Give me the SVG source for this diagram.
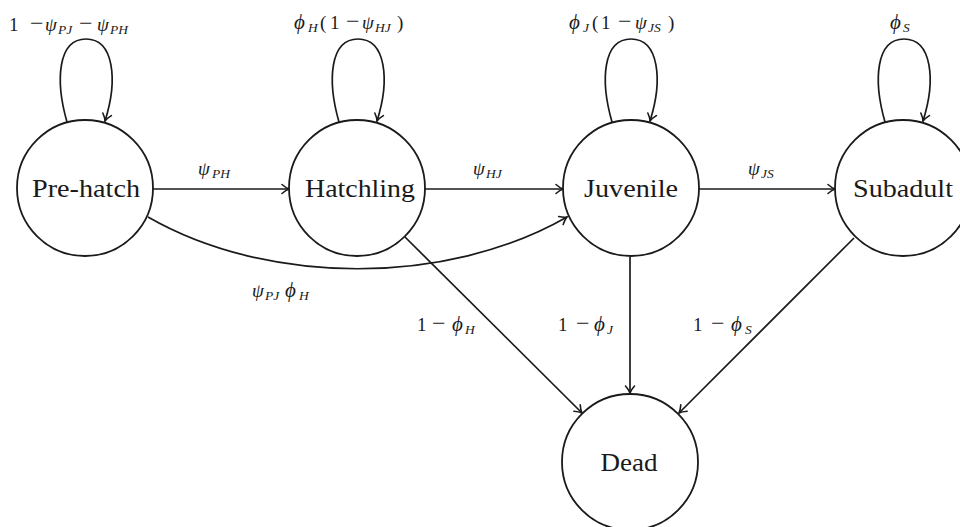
<svg xmlns="http://www.w3.org/2000/svg" width="960" height="527" viewBox="0 0 960 527">
<defs>
<style>
.node{fill:#fff;stroke:#1a1a1a;stroke-width:1.8}
.edge{fill:none;stroke:#1a1a1a;stroke-width:1.7}
.nl{font-family:"Liberation Serif","DejaVu Serif",serif;font-size:25px;fill:#1a1a1a;text-anchor:middle}
.m{font-family:"Liberation Serif","DejaVu Serif",serif;font-size:19px;fill:#1a1a1a}
.i{font-style:italic}
.p{font-style:italic;font-size:21px}
.s{font-style:italic;font-size:13.5px}
.mi{font-size:24px}
</style>
<marker id="arr" markerWidth="12" markerHeight="12" refX="0" refY="0" viewBox="-9 -6 11 12" orient="auto" markerUnits="userSpaceOnUse">
<path d="M-7,-4.5 Q-3,-1 0,0 Q-3,1 -7,4.5" fill="none" stroke="#1a1a1a" stroke-width="1.6" stroke-linecap="round"/>
</marker>
</defs>
<rect width="960" height="527" fill="#fff"/>
<g id="connectors">
<path class="edge" d="M67,122 C55,80 58,39 86,39 C114,39 118,80 105,121" marker-end="url(#arr)"/>
<path class="edge" d="M339,122 C327,80 330,39 358,39 C386,39 390,80 377,121" marker-end="url(#arr)"/>
<path class="edge" d="M612,122 C600,80 603,39 631,39 C659,39 663,80 650,121" marker-end="url(#arr)"/>
<path class="edge" d="M885,122 C873,80 876,39 904,39 C932,39 936,80 923,121" marker-end="url(#arr)"/>
<path class="edge" d="M153,189 H289" marker-end="url(#arr)"/>
<path class="edge" d="M425,189 H563" marker-end="url(#arr)"/>
<path class="edge" d="M699,189 H835" marker-end="url(#arr)"/>
<path class="edge" d="M148,217 C268,286 447,286 567,217" marker-end="url(#arr)"/>
<path class="edge" d="M405,237 L582,413" marker-end="url(#arr)"/>
<path class="edge" d="M630,257 V393" marker-end="url(#arr)"/>
<path class="edge" d="M854,238 L679,413" marker-end="url(#arr)"/>
</g>
<g id="edge-labels">
<text class="m" y="31"><tspan x="9">1</tspan><tspan class="mi" x="30">−</tspan><tspan class="i" x="45">ψ</tspan><tspan class="s" x="58" y="34">PJ</tspan><tspan class="mi" x="79" y="31">−</tspan><tspan class="i" x="97">ψ</tspan><tspan class="s" x="110" y="34">PH</tspan></text>
<text class="m" y="29"><tspan class="p" x="294">ϕ</tspan><tspan class="s" x="308" y="32">H</tspan><tspan x="320" y="29">(</tspan><tspan x="330">1</tspan><tspan class="mi" x="346">−</tspan><tspan class="i" x="362">ψ</tspan><tspan class="s" x="375" y="32">HJ</tspan><tspan x="397" y="29">)</tspan></text>
<text class="m" y="29"><tspan class="p" x="569">ϕ</tspan><tspan class="s" x="583" y="32">J</tspan><tspan x="592" y="29">(</tspan><tspan x="601">1</tspan><tspan class="mi" x="618">−</tspan><tspan class="i" x="635">ψ</tspan><tspan class="s" x="648" y="32">JS</tspan><tspan x="668" y="29">)</tspan></text>
<text class="m" y="29"><tspan class="p" x="890">ϕ</tspan><tspan class="s" x="903" y="32">S</tspan></text>
<text class="m" y="175"><tspan class="i" x="198">ψ</tspan><tspan class="s" x="212" y="178">PH</tspan></text>
<text class="m" y="175"><tspan class="i" x="473">ψ</tspan><tspan class="s" x="486" y="178">HJ</tspan></text>
<text class="m" y="175"><tspan class="i" x="748">ψ</tspan><tspan class="s" x="761" y="178">JS</tspan></text>
<text class="m" y="297"><tspan class="i" x="252">ψ</tspan><tspan class="s" x="265" y="300">PJ</tspan><tspan class="p" x="285" y="297">ϕ</tspan><tspan class="s" x="299" y="300">H</tspan></text>
<text class="m" y="331"><tspan x="417">1</tspan><tspan class="mi" x="432">−</tspan><tspan class="p" x="452">ϕ</tspan><tspan class="s" x="465" y="334">H</tspan></text>
<text class="m" y="331"><tspan x="558">1</tspan><tspan class="mi" x="576">−</tspan><tspan class="p" x="594">ϕ</tspan><tspan class="s" x="607" y="334">J</tspan></text>
<text class="m" y="331"><tspan x="693">1</tspan><tspan class="mi" x="711">−</tspan><tspan class="p" x="731">ϕ</tspan><tspan class="s" x="745" y="334">S</tspan></text>
</g>
<g id="node-prehatch"><circle class="node" cx="85" cy="188" r="68"/><text class="nl" x="86" y="197" textLength="108" lengthAdjust="spacingAndGlyphs">Pre-hatch</text></g>
<g id="node-hatchling"><circle class="node" cx="357" cy="188" r="68"/><text class="nl" x="360" y="197" textLength="110" lengthAdjust="spacingAndGlyphs">Hatchling</text></g>
<g id="node-juvenile"><circle class="node" cx="631" cy="188" r="68"/><text class="nl" x="631" y="197" textLength="94" lengthAdjust="spacingAndGlyphs">Juvenile</text></g>
<g id="node-subadult"><circle class="node" cx="903" cy="188" r="68"/><text class="nl" x="903" y="197" textLength="100" lengthAdjust="spacingAndGlyphs">Subadult</text></g>
<g id="node-dead"><circle class="node" cx="630" cy="462" r="68"/><text class="nl" x="629" y="471" textLength="57" lengthAdjust="spacingAndGlyphs">Dead</text></g>
</svg>
